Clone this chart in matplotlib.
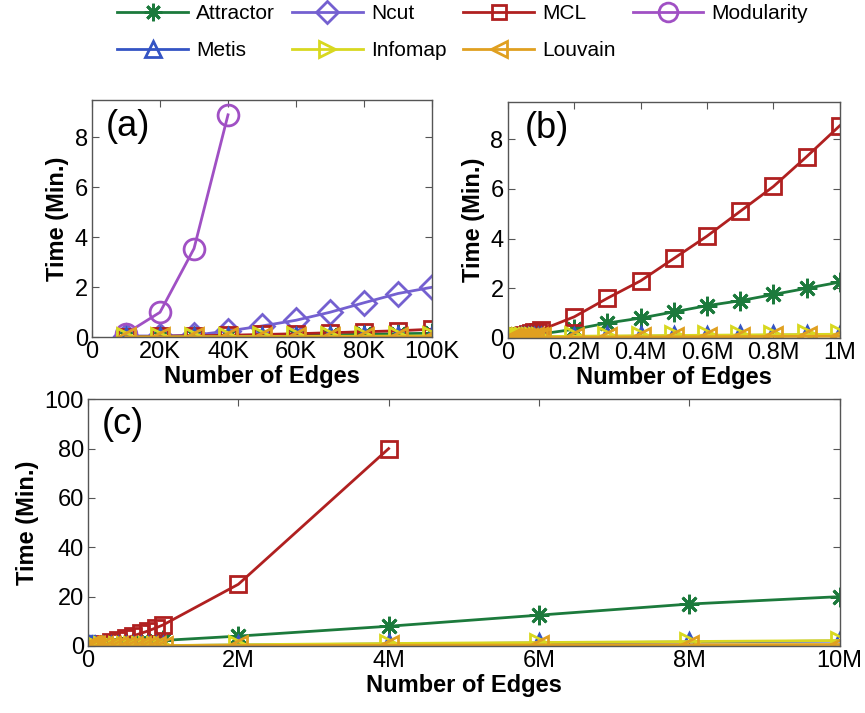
import numpy as np
import matplotlib.pyplot as plt

plt.rcParams['font.family'] = ['Liberation Sans', 'DejaVu Sans']

# edge counts
x_a = [10e3, 20e3, 30e3, 40e3, 50e3, 60e3, 70e3, 80e3, 90e3, 100e3]
x_b_ext = [200e3, 300e3, 400e3, 500e3, 600e3, 700e3, 800e3, 900e3, 1e6]
x_c_ext = [2e6, 4e6, 6e6, 8e6, 10e6]

# running time in minutes
attractor_a = [0.01, 0.02, 0.03, 0.05, 0.06, 0.08, 0.10, 0.12, 0.14, 0.16]
attractor_b = [0.35, 0.60, 0.80, 1.05, 1.30, 1.50, 1.75, 2.00, 2.25]
attractor_c = [4.0, 8.0, 12.5, 17.0, 20.0]

ncut_a = [0.05, 0.05, 0.08, 0.25, 0.45, 0.68, 1.00, 1.38, 1.75, 2.00]

mcl_a = [0.02, 0.04, 0.06, 0.08, 0.11, 0.14, 0.18, 0.22, 0.26, 0.32]
mcl_b = [0.85, 1.60, 2.30, 3.20, 4.10, 5.10, 6.10, 7.30, 8.55]
mcl_c = [25.0, 80.0]

modularity_a = [0.15, 1.00, 3.55, 8.90]

metis_a = [0.01, 0.01, 0.01, 0.02, 0.02, 0.02, 0.03, 0.03, 0.03, 0.04]
metis_b = [0.05, 0.06, 0.07, 0.08, 0.09, 0.10, 0.11, 0.12, 0.13]
metis_c = [0.4, 0.8, 1.2, 1.6, 2.0]

infomap_a = [0.01, 0.01, 0.02, 0.02, 0.03, 0.03, 0.04, 0.04, 0.05, 0.05]
infomap_b = [0.07, 0.08, 0.09, 0.10, 0.11, 0.12, 0.13, 0.14, 0.15]
infomap_c = [0.5, 1.0, 1.4, 1.8, 2.2]

louvain_a = [0.005, 0.005, 0.01, 0.01, 0.01, 0.015, 0.015, 0.02, 0.02, 0.02]
louvain_b = [0.03, 0.035, 0.04, 0.045, 0.05, 0.055, 0.06, 0.065, 0.07]
louvain_c = [0.2, 0.3, 0.4, 0.5, 0.6]

styles = {
    'Attractor': dict(color='#1c7a3c', marker=(8, 2, 0), mfc='#1c7a3c'),
    'Ncut': dict(color='#7460d0', marker='D', mfc='none'),
    'MCL': dict(color='#b02020', marker='s', mfc='none'),
    'Modularity': dict(color='#a050c4', marker='o', mfc='none'),
    'Metis': dict(color='#3454c4', marker='^', mfc='none'),
    'Infomap': dict(color='#d8d820', marker='>', mfc='none'),
    'Louvain': dict(color='#e0a020', marker='<', mfc='none'),
}
msize = {'Attractor': 14, 'Ncut': 12, 'MCL': 11, 'Modularity': 15,
         'Metis': 13, 'Infomap': 13, 'Louvain': 13}


def draw(ax, name, x, y):
    st = styles[name]
    return ax.plot(x, y, color=st['color'], marker=st['marker'], mfc=st['mfc'],
                   mec=st['color'], ms=msize[name], mew=2, lw=2, label=name)[0]


def finish(ax, xlim, xticks, xlabels, ylim, yticks, tag, tag_pos):
    ax.set_xlim(xlim)
    ax.set_ylim(ylim)
    ax.set_xticks(xticks)
    ax.set_xticklabels(xlabels)
    ax.set_yticks(yticks)
    ax.tick_params(direction='in', top=True, right=True, labelsize=17,
                   length=5, color='#555555', pad=3)
    for s in ax.spines.values():
        s.set_color('#555555')
        s.set_linewidth(1)
    ax.set_xlabel('Number of Edges', fontsize=17, fontweight='bold', labelpad=1)
    ax.set_ylabel('Time (Min.)', fontsize=17, fontweight='bold', labelpad=4)
    ax.text(tag_pos[0], tag_pos[1], tag, transform=ax.transAxes, fontsize=26,
            va='top', ha='left')


fig = plt.figure(figsize=(8.65, 7.13), dpi=100)
ax_a = fig.add_axes([0.1064, 0.527, 0.393, 0.333])
ax_b = fig.add_axes([0.587, 0.526, 0.384, 0.331])
ax_c = fig.add_axes([0.1017, 0.094, 0.869, 0.346])

# (a) up to 100K edges
handles = {}
handles['Attractor'] = draw(ax_a, 'Attractor', x_a, attractor_a)
handles['Ncut'] = draw(ax_a, 'Ncut', x_a, ncut_a)
handles['MCL'] = draw(ax_a, 'MCL', x_a, mcl_a)
handles['Modularity'] = draw(ax_a, 'Modularity', x_a[:len(modularity_a)], modularity_a)
handles['Metis'] = draw(ax_a, 'Metis', x_a, metis_a)
handles['Infomap'] = draw(ax_a, 'Infomap', x_a, infomap_a)
handles['Louvain'] = draw(ax_a, 'Louvain', x_a, louvain_a)
finish(ax_a, (0, 100e3), np.arange(0, 100001, 20e3),
       ['0', '20K', '40K', '60K', '80K', '100K'],
       (0, 9.5), [0, 2, 4, 6, 8], '(a)', (0.04, 0.96))

# (b) up to 1M edges
x_b = x_a + x_b_ext
draw(ax_b, 'Attractor', x_b, attractor_a + attractor_b)
draw(ax_b, 'MCL', x_b, mcl_a + mcl_b)
draw(ax_b, 'Metis', x_b, metis_a + metis_b)
draw(ax_b, 'Infomap', x_b, infomap_a + infomap_b)
draw(ax_b, 'Louvain', x_b, louvain_a + louvain_b)
finish(ax_b, (0, 1e6), np.arange(0, 1e6 + 1, 0.2e6),
       ['0', '0.2M', '0.4M', '0.6M', '0.8M', '1M'],
       (0, 9.5), [0, 2, 4, 6, 8], '(b)', (0.05, 0.96))

# (c) up to 10M edges
x_c = x_b + x_c_ext
draw(ax_c, 'Attractor', x_c, attractor_a + attractor_b + attractor_c)
draw(ax_c, 'MCL', x_b + x_c_ext[:len(mcl_c)], mcl_a + mcl_b + mcl_c)
draw(ax_c, 'Metis', x_c, metis_a + metis_b + metis_c)
draw(ax_c, 'Infomap', x_c, infomap_a + infomap_b + infomap_c)
draw(ax_c, 'Louvain', x_c, louvain_a + louvain_b + louvain_c)
finish(ax_c, (0, 10e6), np.arange(0, 10e6 + 1, 2e6),
       ['0', '2M', '4M', '6M', '8M', '10M'],
       (0, 100), [0, 20, 40, 60, 80, 100], '(c)', (0.018, 0.97))

order = ['Attractor', 'Metis', 'Ncut', 'Infomap', 'MCL', 'Louvain', 'Modularity']
fig.legend([handles[k] for k in order], order, loc='upper center',
           bbox_to_anchor=(0.535, 1.02), ncol=4, frameon=False, fontsize=15,
           handlelength=3.4, columnspacing=0.8, handletextpad=0.4,
           labelspacing=0.85, markerscale=0.9)

fig.savefig('out.png', dpi=100)
